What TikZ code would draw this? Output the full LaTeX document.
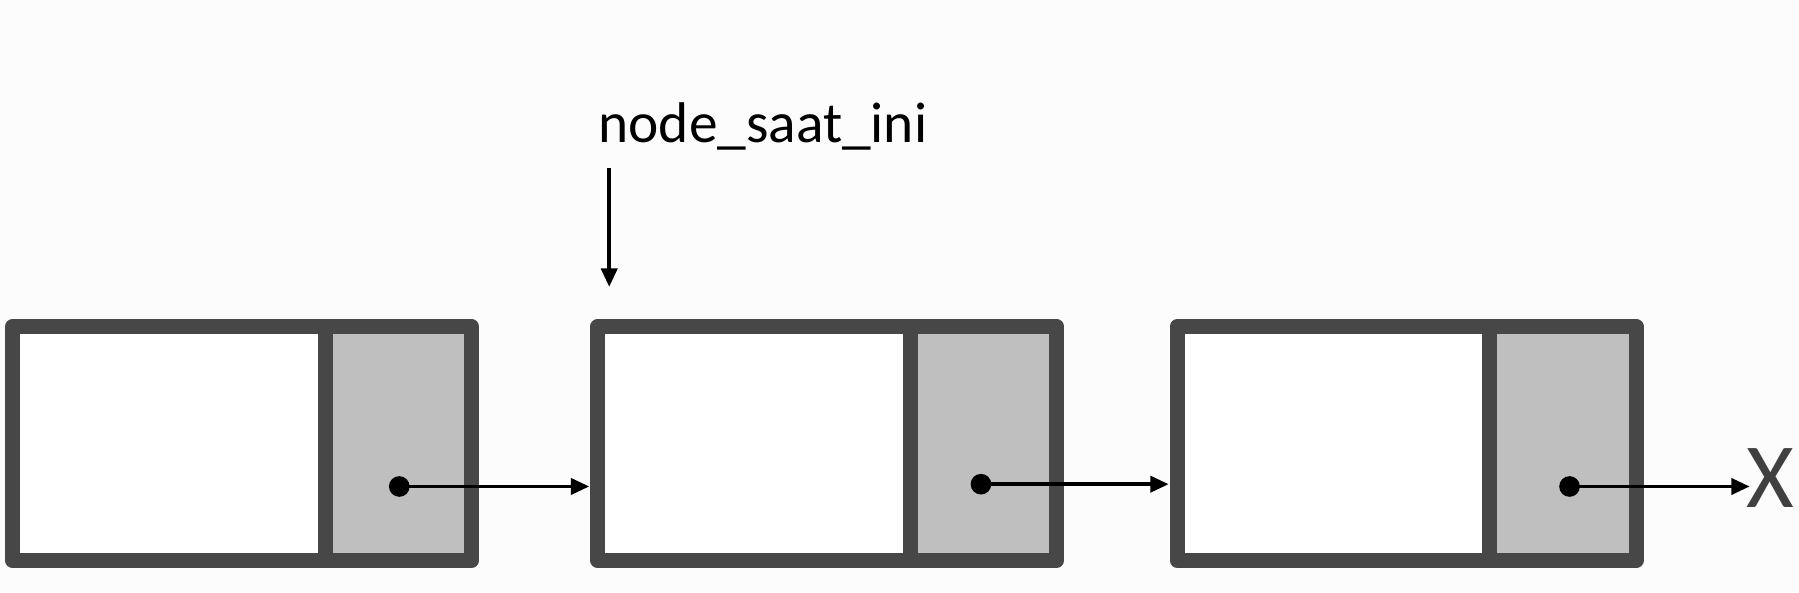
\documentclass[tikz,border=0pt]{standalone}
\usepackage{fontspec}
\setmainfont{Carlito}
\usetikzlibrary{arrows.meta}
\begin{document}
\begin{tikzpicture}[x=0.5pt,y=-0.5pt,
  outer/.style={draw=black!72,line width=6.5pt,line join=round},
  ptr/.style={fill=black!25},
  arr/.style={-{Triangle[length=8pt,width=7pt]},line width=1.6pt}]
\useasboundingbox (0,0) rectangle (1568,516);
\fill[black!1] (0,0) rectangle (1568,516);
\foreach \i/\x in {1/5,2/515,3/1020}{
  \fill[ptr] (\x+284,284) rectangle (\x+405,489);
  \fill[white] (\x+6,284) rectangle (\x+277,489);
  \draw[line width=6.5pt,black!72] (\x+278.5,284) -- (\x+278.5,489);
  \draw[outer] (\x+6,284.5) rectangle (\x+406,488.5);
}
\node[inner sep=0] (b2) at (515,424) {};
\node[inner sep=0] (b3) at (1020,422) {};
\node[circle,fill=black,minimum width=8pt,minimum height=9pt,inner sep=0] (d1) at (348,424) {};
\node[circle,fill=black,minimum width=8pt,minimum height=9pt,inner sep=0] (d2) at (855,422) {};
\node[circle,fill=black,minimum width=8pt,minimum height=9pt,inner sep=0] (d3) at (1368,424) {};
\node[font=\fontsize{40}{40}\selectfont,text=black!75,inner sep=0] (x) at (1543,417) {X};
\draw[arr] (d1.center) -- (b2);
\draw[arr] (d2.center) -- (b3);
\draw[arr] (d3.center) -- (1525,424) coordinate (xe);
\node[font=\fontsize{25}{25}\selectfont,inner sep=0] (lbl) at (665,110) {node\_saat\_ini};
\coordinate (top) at (531,146);
\coordinate (bot) at (531,250);
\draw[arr] (top) -- (bot);
\end{tikzpicture}
\end{document}
